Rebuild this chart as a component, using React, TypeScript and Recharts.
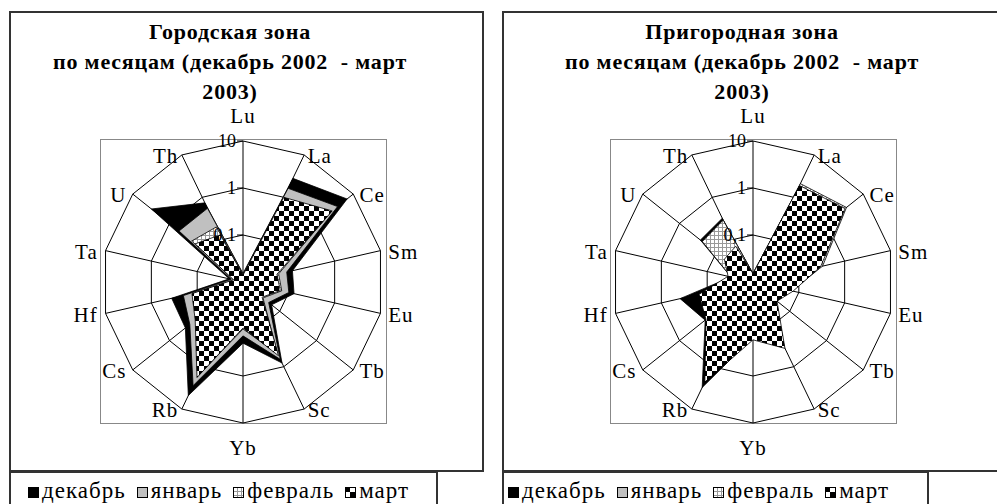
import { RadarChart, Radar, PolarGrid, PolarAngleAxis, PolarRadiusAxis, Legend } from "recharts";

const elements = ["Lu", "La", "Ce", "Sm", "Eu", "Tb", "Sc", "Yb", "Rb", "Cs", "Hf", "Ta", "U", "Th"];
const monthKeys = ["dec", "jan", "feb", "mar"];
const monthNames = ["декабрь", "январь", "февраль", "март"];
const radiusTicks = [0.01, 0.1, 1, 10];

// Городская зона
const urbanDec = [0.015, 2.8, 6.8, 0.12, 0.13, 0.06, 0.82, 0.2, 4.8, 0.37, 0.36, 0.02, 3.1, 0.74];
const urbanJan = [0.015, 1.63, 3.75, 0.09, 0.1, 0.05, 0.67, 0.14, 2.8, 0.28, 0.2, 0.018, 0.55, 0.55];
const urbanFeb = [0.014, 0.95, 2.5, 0.06, 0.07, 0.035, 0.5, 0.1, 1.7, 0.19, 0.12, 0.016, 0.25, 0.2];
const urbanMar = [0.014, 1.0, 2.67, 0.055, 0.065, 0.033, 0.55, 0.095, 1.8, 0.2, 0.13, 0.016, 0.2, 0.13];

// Пригородная зона
const suburbDec = [0.015, 1.5, 2.8, 0.25, 0.06, 0.04, 0.33, 0.15, 3.1, 0.2, 0.39, 0.03, 0.27, 0.32];
const suburbJan = [0.015, 1.2, 2.2, 0.2, 0.05, 0.03, 0.25, 0.12, 2.0, 0.15, 0.12, 0.025, 0.2, 0.22];
const suburbFeb = [0.015, 2.1, 3.5, 0.33, 0.07, 0.035, 0.3, 0.14, 2.0, 0.16, 0.12, 0.03, 0.24, 0.29];
const suburbMar = [0.015, 1.9, 3.2, 0.3, 0.075, 0.045, 0.37, 0.17, 2.3, 0.19, 0.15, 0.035, 0.06, 0.07];

const urbanTitle = ["Городская зона", "по месяцам (декабрь 2002  - март", "2003)"];
const suburbTitle = ["Пригородная зона", "по месяцам (декабрь 2002  - март", "2003)"];

const buildRows = (series: number[][]) =>
  elements.map((el, i) => {
    const row: any = { el };
    monthKeys.forEach((k, j) => (row[k] = series[j][i]));
    return row;
  });

const urbanData = buildRows([urbanDec, urbanJan, urbanFeb, urbanMar]);
const suburbData = buildRows([suburbDec, suburbJan, suburbFeb, suburbMar]);

const serif = '"Liberation Serif", "Times New Roman", serif';

const fmtTick = (v: number) => String(v).replace(".", ",");

const AngleTick = (props: any) => {
  const { x, y, payload, textAnchor } = props;
  const a = (payload.coordinate * Math.PI) / 180;
  const s = Math.sin(a);
  const c = Math.cos(a);
  const ty = Math.abs(c) < 0.01 ? y - 17 * Math.sign(s) : y + 8 * s + 1;
  return (
    <text x={x} y={ty} dy="0.35em" textAnchor={textAnchor} fontFamily={serif} fontSize={21} letterSpacing={1} fill="#000">
      {payload.value}
    </text>
  );
};

const RadiusTick = (props: any) => {
  const { x, y, payload } = props;
  if (payload.value <= 0.01) return <g />;
  return (
    <g>
      <line x1={x - 6} y1={y} x2={x} y2={y} stroke="#000" />
      <text x={x - 7} y={y} dy="0.35em" textAnchor="end" fontFamily={serif} fontSize={18} fill="#000">
        {fmtTick(payload.value)}
      </text>
    </g>
  );
};

const makeLegend = (fills: Record<string, string>, padLeft: number) => (props: any) => {
  const items = [...(props.payload || [])].sort(
    (a: any, b: any) => monthKeys.indexOf(a.dataKey) - monthKeys.indexOf(b.dataKey)
  );
  return (
    <ul style={{ margin: 0, padding: `0 0 0 ${padLeft}px`, listStyle: "none", whiteSpace: "nowrap", lineHeight: "36px", textAlign: "left" }}>
      {items.map((entry: any) => (
        <li key={entry.value} style={{ display: "inline-block", marginRight: 11 }}>
          <svg width={11} height={11} style={{ verticalAlign: "middle", marginRight: 3 }}>
            <rect x={0.5} y={0.5} width={10} height={10} fill={fills[entry.dataKey]} stroke="#000" />
          </svg>
          {entry.value}
        </li>
      ))}
    </ul>
  );
};

interface PanelProps {
  id: string;
  left: number;
  width: number;
  boxWidth: number;
  cx: number;
  titleCenter: number;
  title: string[];
  data: any[];
  legendWidth: number;
  legendPad: number;
}

const Panel = ({ id, left, width, boxWidth, cx, titleCenter, title, data, legendWidth, legendPad }: PanelProps) => {
  const fills: Record<string, string> = {
    dec: "#000",
    jan: "#c0c0c0",
    feb: `url(#${id}-grid)`,
    mar: `url(#${id}-checker)`,
  };
  return (
    <>
      <div style={{ position: "absolute", left, top: 11, width: boxWidth, height: 461, border: "2px solid #333", boxSizing: "border-box" }} />
      <div
        style={{
          position: "absolute",
          left: titleCenter - 250,
          top: 17,
          width: 500,
          textAlign: "center",
          fontFamily: serif,
          fontWeight: "bold",
          fontSize: 22,
          lineHeight: "30px",
          letterSpacing: 0.8,
          whiteSpace: "pre",
        }}
      >
        {title.join("\n")}
      </div>
      <div style={{ position: "absolute", left: left + cx - 143, top: 139, width: 287, height: 285, border: "1px solid #888", boxSizing: "border-box" }} />
      <div style={{ position: "absolute", left, top: 11 }}>
        <RadarChart width={width} height={493} data={data} cx={cx} cy={271} outerRadius={141} margin={{ top: 0, right: 0, bottom: 0, left: 0 }}>
          <defs>
            <pattern id={`${id}-checker`} width={10} height={10} patternUnits="userSpaceOnUse">
              <rect width={10} height={10} fill="#fff" />
              <rect width={5} height={5} fill="#000" />
              <rect x={5} y={5} width={5} height={5} fill="#000" />
            </pattern>
            <pattern id={`${id}-grid`} width={4} height={4} patternUnits="userSpaceOnUse">
              <rect width={4} height={4} fill="#fff" />
              <rect width={4} height={1} fill="#999" />
              <rect width={1} height={4} fill="#999" />
            </pattern>
          </defs>
          <PolarGrid gridType="polygon" stroke="#000" strokeWidth={1} />
          <PolarAngleAxis dataKey="el" tick={AngleTick} tickLine={false} axisLine={false} />
          <PolarRadiusAxis
            angle={90}
            type="number"
            scale="log"
            domain={[0.01, 10]}
            ticks={radiusTicks}
            tickCount={4}
            allowDataOverflow
            axisLine={false}
            tick={RadiusTick}
          />
          {monthKeys.map((k, i) => (
            <Radar
              key={k}
              name={monthNames[i]}
              dataKey={k}
              fill={fills[k]}
              fillOpacity={1}
              stroke="#000"
              strokeWidth={0.8}
              dot={false}
              isAnimationActive={false}
            />
          ))}
          <Legend
            content={makeLegend(fills, legendPad)}
            wrapperStyle={{
              left: 0,
              top: 460,
              width: legendWidth,
              height: 40,
              border: "2px solid #333",
              boxSizing: "border-box",
              background: "#fff",
              fontFamily: serif,
              fontSize: 23,
              letterSpacing: 1,
            }}
          />
        </RadarChart>
      </div>
    </>
  );
};

export default function App() {
  return (
    <div style={{ position: "absolute", left: 0, top: 0, width: 997, height: 504, overflow: "hidden", background: "#fff" }}>
      <Panel
        id="urban"
        left={9}
        width={475}
        boxWidth={475}
        cx={234}
        titleCenter={230}
        title={urbanTitle}
        data={urbanData}
        legendWidth={429}
        legendPad={17}
      />
      <Panel
        id="suburb"
        left={502}
        width={495}
        boxWidth={510}
        cx={251}
        titleCenter={742}
        title={suburbTitle}
        data={suburbData}
        legendWidth={427}
        legendPad={4}
      />
    </div>
  );
}
